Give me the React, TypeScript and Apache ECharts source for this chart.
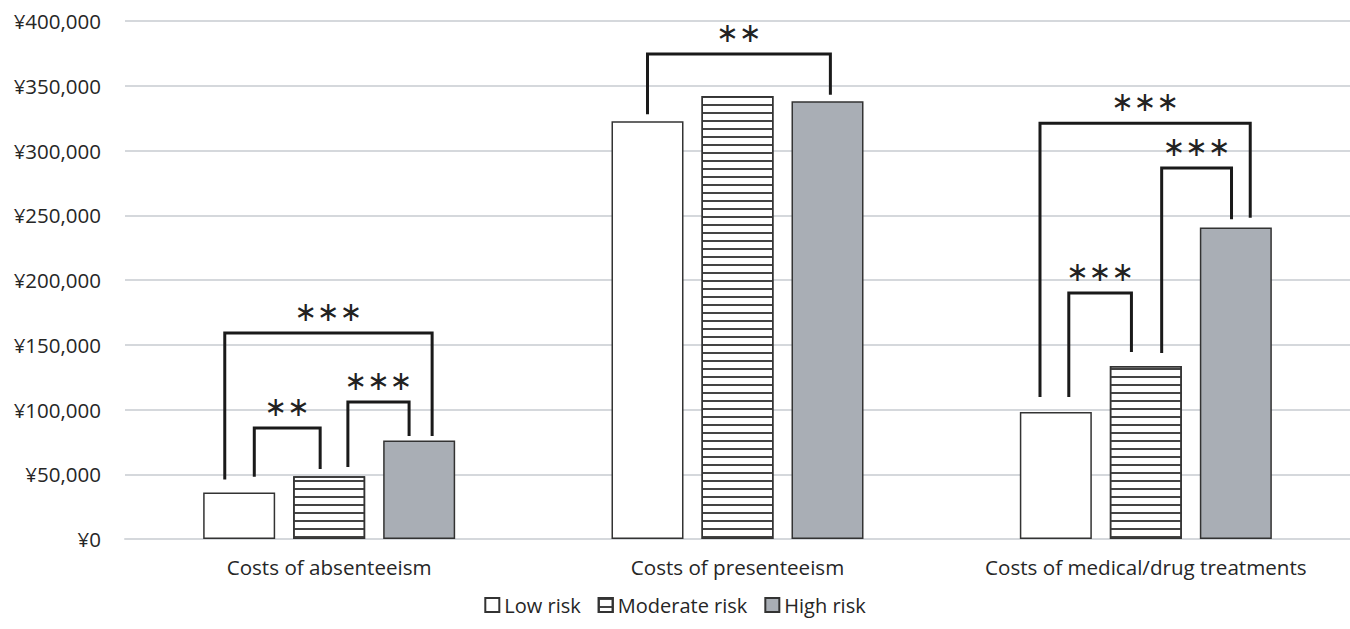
import React, { useEffect, useRef } from "react";
import * as echarts from "echarts";

const categories = ["Costs of absenteeism", "Costs of presenteeism", "Costs of medical/drug treatments"];
const seriesNames = ["Low risk", "Moderate risk", "High risk"];
const lowRisk = [36000, 322500, 98000];
const moderateRisk = [48500, 342000, 133600];
const highRisk = [76000, 338000, 240500];
const yTicks = { min: 0, max: 400000, interval: 50000 };

// significance brackets: category, left bar index, right bar index,
// left foot value, top value, right foot value, label
const bracketCat = [0, 0, 0, 1, 2, 2, 2];
const bracketFrom = [0, 0, 1, 0, 0, 1, 0];
const bracketTo = [2, 1, 2, 2, 2, 2, 1];
const bracketFromOff = [-0.2, 0.21, 0.26, 0.0, -0.22, 0.22, 0.18];
const bracketToOff = [0.18, -0.125, -0.14, 0.04, 0.2, -0.06, -0.2];
const bracketLeftY = [46000, 48000, 55600, 328000, 109600, 143600, 109600];
const bracketTopY = [159000, 85700, 105800, 374500, 321000, 286500, 190000];
const bracketRightY = [79500, 54000, 79500, 343000, 248000, 247000, 144400];
const bracketLabels = ["∗∗∗", "∗∗", "∗∗∗", "∗∗", "∗∗∗", "∗∗∗", "∗∗∗"];

const BAR_W = 72;
const BAR_STEP = 90;
const FONT = "'Open Sans', 'Noto Sans', sans-serif";

export default function App() {
  const ref = useRef<HTMLDivElement>(null);
  useEffect(() => {
    if (!ref.current) return;
    const chart = echarts.init(ref.current, null, { renderer: "svg" });
    const border = "#333333";
    const option: any = {
      animation: false,
      backgroundColor: "#ffffff",
      textStyle: { fontFamily: FONT },
      grid: { left: 125, right: 0, top: 21, bottom: 90, containLabel: false },
      legend: {
        bottom: 9,
        left: "center",
        icon: "rect",
        itemWidth: 14,
        itemHeight: 14,
        itemGap: 17,
        textStyle: { fontFamily: FONT, fontSize: 20, color: "#262626" },
        data: seriesNames,
      },
      xAxis: {
        type: "category",
        data: categories,
        axisLine: { show: true, lineStyle: { color: "#d5d8dc", width: 2 } },
        axisTick: { show: false },
        axisLabel: { interval: 0, fontFamily: FONT, fontSize: 20.6, color: "#262626", margin: 17 },
      },
      yAxis: {
        type: "value",
        min: yTicks.min,
        max: yTicks.max,
        interval: yTicks.interval,
        axisLine: { show: false },
        axisTick: { show: false },
        splitLine: { lineStyle: { color: "#d5d8dc", width: 2 } },
        axisLabel: {
          fontFamily: FONT,
          fontSize: 20.5,
          color: "#262626",
          margin: 24,
          formatter: (v: number) => "¥" + v.toLocaleString("en-US"),
        },
      },
      series: [
        {
          name: seriesNames[0],
          type: "bar",
          data: lowRisk,
          barWidth: BAR_W,
          barGap: "25%",
          itemStyle: { color: "#ffffff", borderColor: border, borderWidth: 1.5 },
        },
        {
          name: seriesNames[1],
          type: "bar",
          data: moderateRisk,
          barWidth: BAR_W,
          barGap: "25%",
          itemStyle: {
            color: "#ffffff",
            borderColor: border,
            borderWidth: 1.5,
            decal: {
              symbol: "rect",
              symbolSize: 1,
              dashArrayX: [1, 0],
              dashArrayY: [2, 6],
              rotation: 0,
              color: "#444444",
            },
          },
        },
        {
          name: seriesNames[2],
          type: "bar",
          data: highRisk,
          barWidth: BAR_W,
          barGap: "25%",
          itemStyle: { color: "#a9aeb5", borderColor: border, borderWidth: 1.5 },
        },
        {
          type: "custom",
          name: "brackets",
          clip: false,
          silent: true,
          data: bracketCat.map((c, i) => [c, bracketTopY[i]]),
          renderItem: (params: any, api: any) => {
            const i = params.dataIndex;
            const c = bracketCat[i];
            const center = api.coord([c, 0])[0];
            const xL = center + (bracketFrom[i] - 1) * BAR_STEP + bracketFromOff[i] * BAR_W;
            const xR = center + (bracketTo[i] - 1) * BAR_STEP + bracketToOff[i] * BAR_W;
            const yL = api.coord([c, bracketLeftY[i]])[1];
            const yT = api.coord([c, bracketTopY[i]])[1];
            const yR = api.coord([c, bracketRightY[i]])[1];
            return {
              type: "group",
              children: [
                {
                  type: "polyline",
                  shape: { points: [[xL, yL], [xL, yT], [xR, yT], [xR, yR]] },
                  style: { stroke: "#1a1a1a", lineWidth: 3, fill: "none" },
                },
                {
                  type: "text",
                  style: {
                    text: bracketLabels[i],
                    x: (xL + xR) / 2,
                    y: yT - 8,
                    align: "center",
                    verticalAlign: "bottom",
                    font: "27px 'DejaVu Sans', sans-serif",
                    fill: "#222",
                  },
                },
              ],
            };
          },
        },
      ],
    };
    chart.setOption(option);
    return () => chart.dispose();
  }, []);
  return (
    <div
      ref={ref}
      style={{ position: "fixed", left: 0, top: 0, width: 1350, height: 629, background: "#fff" }}
    />
  );
}
